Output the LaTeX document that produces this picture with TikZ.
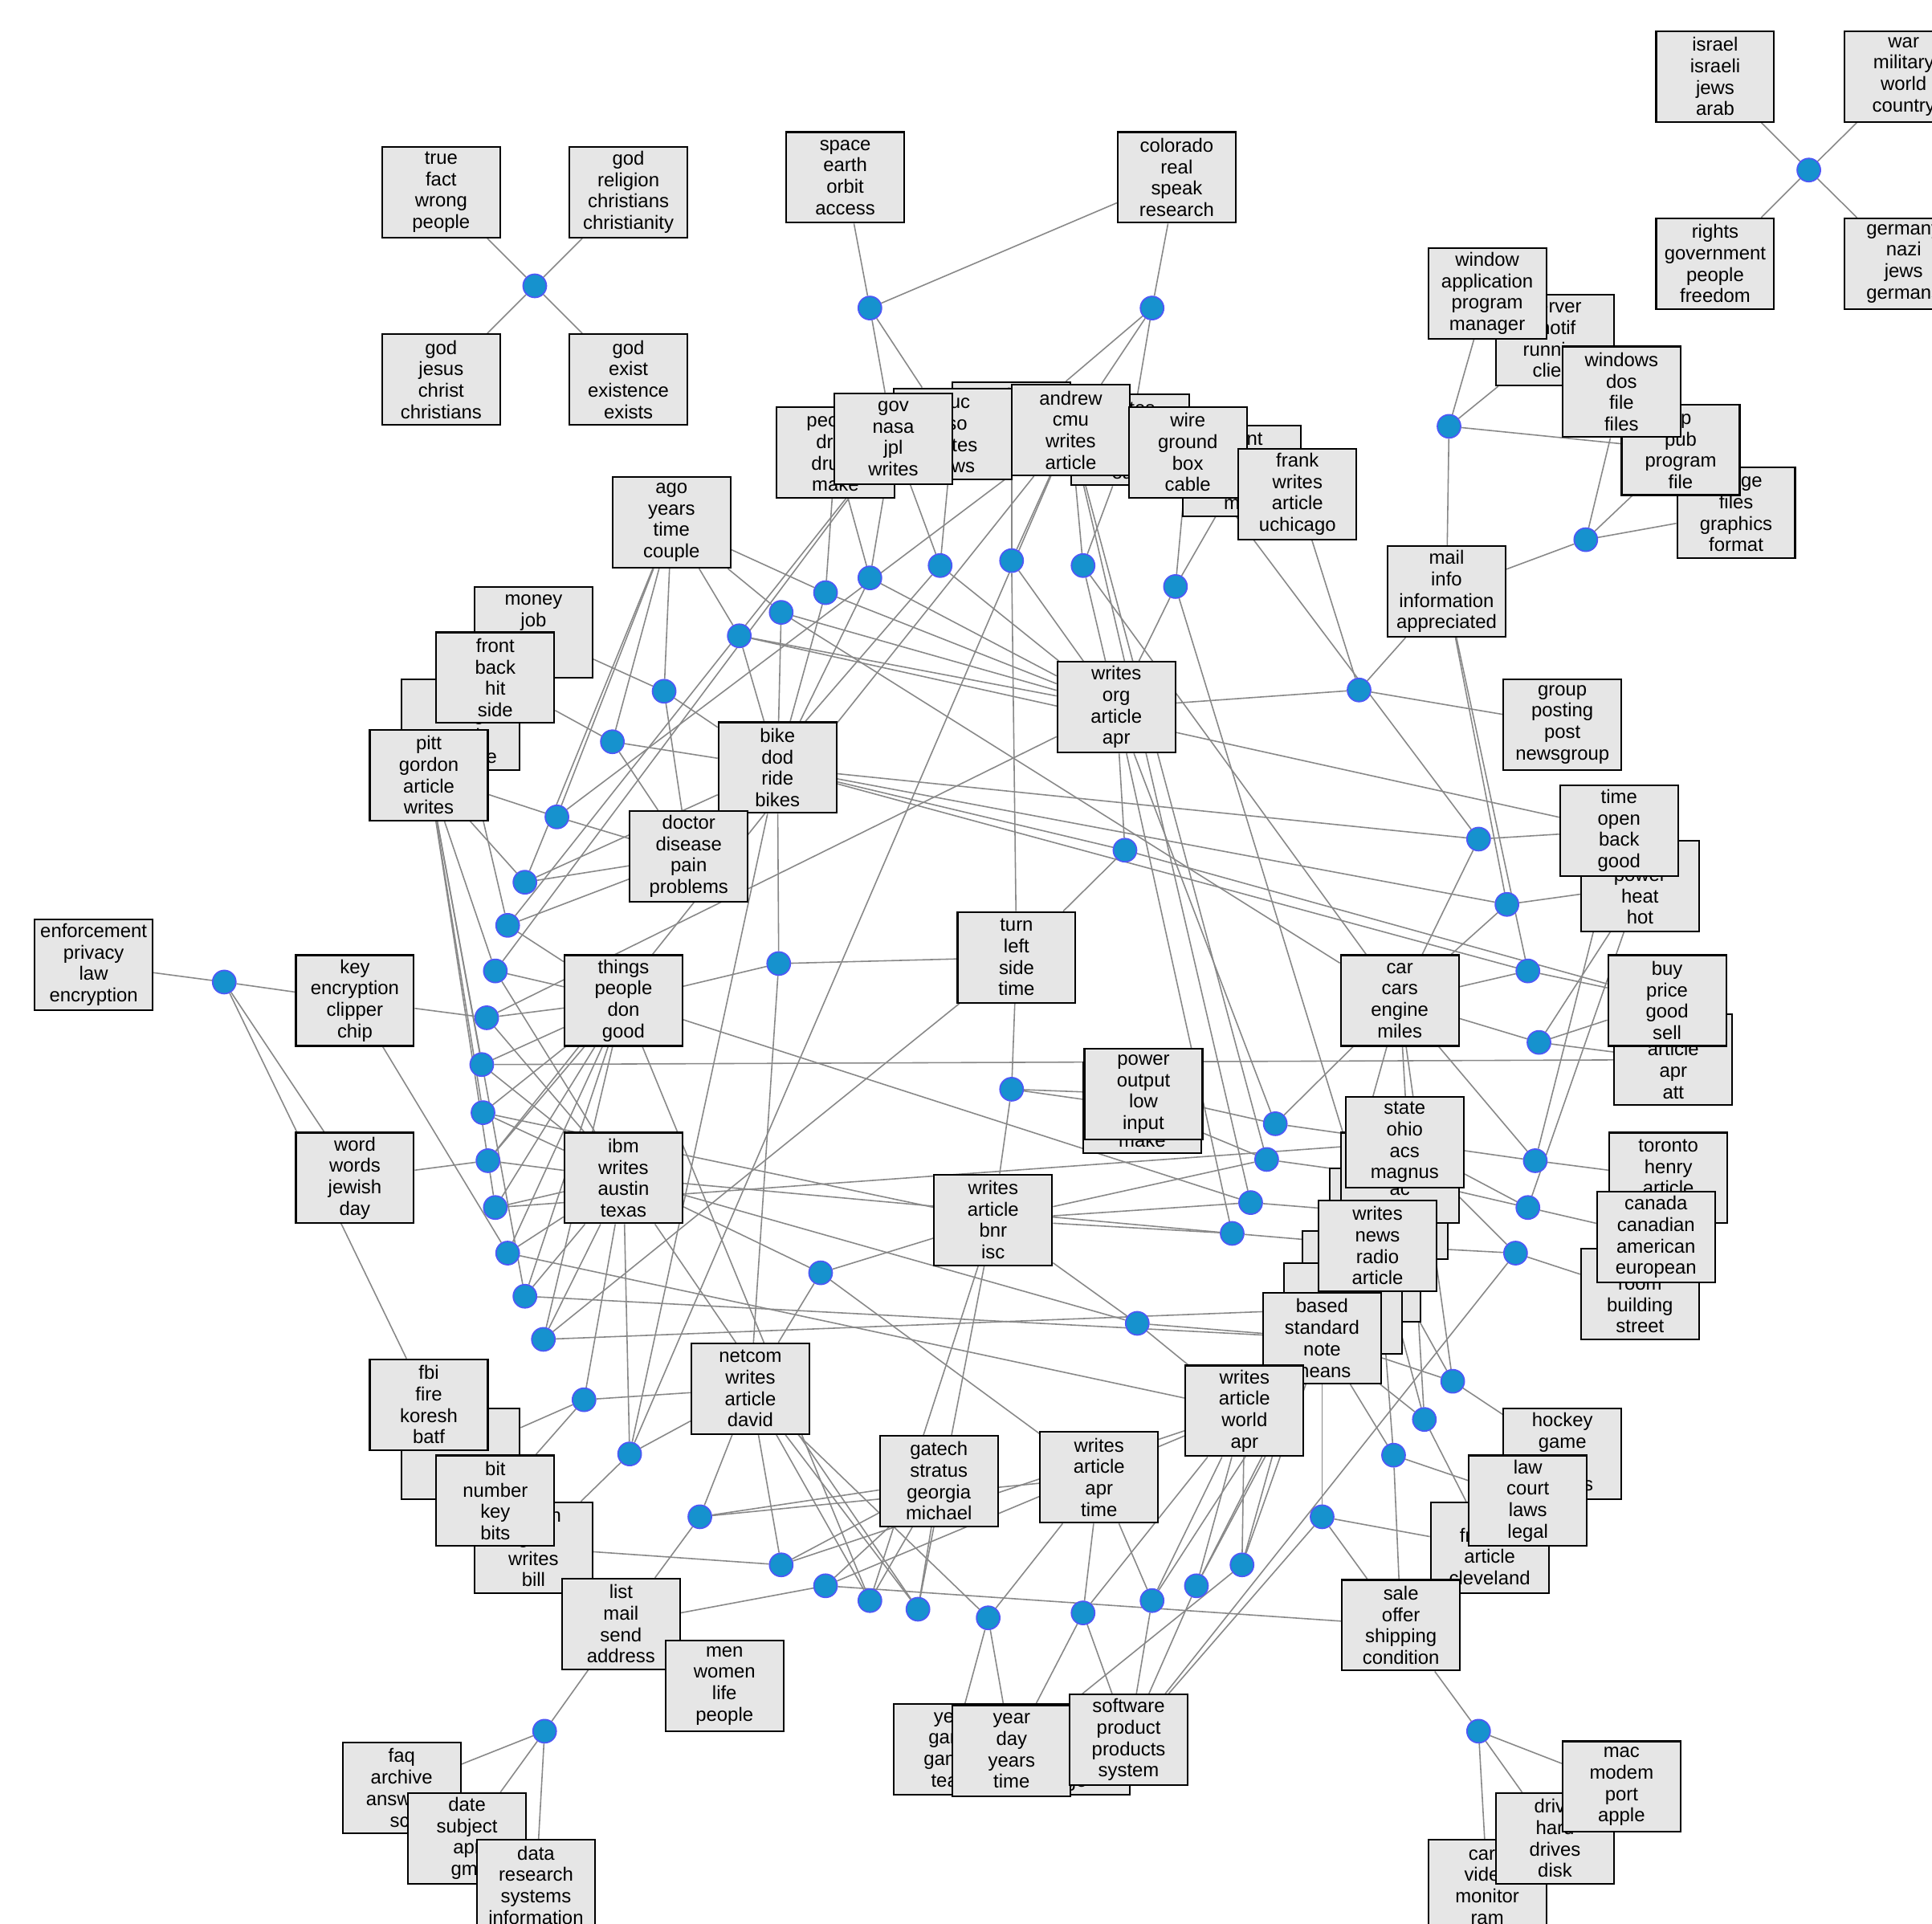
\documentclass[tikz,border=0pt]{standalone}
\usepackage{fontspec}
\setmainfont{Liberation Sans}
\usetikzlibrary{backgrounds}
\definecolor{hubfill}{RGB}{22,146,206}
\definecolor{hubline}{RGB}{78,88,246}
\definecolor{linkgray}{RGB}{136,136,136}
\definecolor{topicgray}{RGB}{230,230,230}

\begin{document}
\begin{tikzpicture}[x=0.015345cm,y=-0.015345cm,
	topic/.style={draw=black,fill=topicgray,line width=0.6pt,minimum width=1.47cm,minimum height=1.13cm,inner sep=0pt,align=center,font=\fontsize{6.8}{7.6}\selectfont},
	hub/.style={circle,draw=hubline,fill=hubfill,line width=0.5pt,minimum size=0.29cm,inner sep=0pt},
	link/.style={draw=linkgray,line width=0.45pt}]
	\useasboundingbox (0,0) rectangle (1568,1561);
	% 外围小组
	\node[topic] (tIsrael) at (1392,62) {israel\\israeli\\jews\\arab};
	\node[topic] (tWar) at (1545,62) {war\\military\\world\\country};
	\node[topic] (tRights) at (1392,214) {rights\\government\\people\\freedom};
	\node[topic] (tGerman) at (1545,214) {germany\\nazi\\jews\\germans};
	\node[topic] (tTrue) at (358,156) {true\\fact\\wrong\\people};
	\node[topic] (tGodRel) at (510,156) {god\\religion\\christians\\christianity};
	\node[topic] (tGodJes) at (358,308) {god\\jesus\\christ\\christians};
	\node[topic] (tGodEx) at (510,308) {god\\exist\\existence\\exists};
	\node[topic] (tSpace) at (686,144) {space\\earth\\orbit\\access};
	\node[topic] (tColo) at (955,144) {colorado\\real\\speak\\research};
	% 上方一排
	\node[topic] (tHidA) at (821,347) {writes\\article\\apr\\news};
	\node[topic] (tUiuc) at (773,352) {uiuc\\cso\\writes\\news};
	\node[topic] (tPeople) at (678,367) {people\\drug\\drugs\\make};
	\node[topic] (tGov) at (725,356) {gov\\nasa\\jpl\\writes};
	\node[topic] (tTes) at (917,357) {writes\\article\\sun\\east};
	\node[topic] (tAndrew) at (869,349) {andrew\\cmu\\writes\\article};
	\node[topic] (tNt) at (1008,382) {point\\circuit\\voltage\\max};
	\node[topic] (tWire) at (964,367) {wire\\ground\\box\\cable};
	\node[topic] (tFrank) at (1053,401) {frank\\writes\\article\\uchicago};
	\node[topic] (tServer) at (1262,276) {server\\motif\\running\\client};
	\node[topic] (tWindow) at (1207,238) {window\\application\\program\\manager};
	\node[topic] (tImage) at (1409,416) {image\\files\\graphics\\format};
	\node[topic] (tFtp) at (1364,365) {ftp\\pub\\program\\file};
	\node[topic] (tWindows) at (1316,318) {windows\\dos\\file\\files};
	\node[topic] (tMail) at (1174,480) {mail\\info\\information\\appreciated};
	\node[topic] (tGroup) at (1268,588) {group\\posting\\post\\newsgroup};
	% 左侧
	\node[topic] (tAgo) at (545,424) {ago\\years\\time\\couple};
	\node[topic] (tMoney) at (433,513) {money\\job\\pay\\tax};
	\node[topic] (tHidE) at (374,588) {dog\\riding\\road\\machine};
	\node[topic] (tFront) at (402,550) {front\\back\\hit\\side};
	\node[topic] (tPitt) at (348,629) {pitt\\gordon\\article\\writes};
	\node[topic] (tBike) at (631,623) {bike\\dod\\ride\\bikes};
	\node[topic] (tDoctor) at (559,695) {doctor\\disease\\pain\\problems};
	\node[topic] (tWritesOrg) at (906,574) {writes\\org\\article\\apr};
	\node[topic] (tEnforce) at (76,783) {enforcement\\privacy\\law\\encryption};
	\node[topic] (tKey) at (288,812) {key\\encryption\\clipper\\chip};
	\node[topic] (tThings) at (506,812) {things\\people\\don\\good};
	\node[topic] (tWord) at (288,956) {word\\words\\jewish\\day};
	\node[topic] (tIbm) at (506,956) {ibm\\writes\\austin\\texas};
	% 中部
	\node[topic] (tTurn) at (825,777) {turn\\left\\side\\time};
	\node[topic] (tMake) at (927,899) {problem\\work\\good\\make};
	\node[topic] (tPower) at (928,888) {power\\output\\low\\input};
	\node[topic] (tBnr) at (806,990) {writes\\article\\bnr\\isc};
	\node[topic] (tCar) at (1136,812) {car\\cars\\engine\\miles};
	% 右侧
	\node[topic] (tPowerHeat) at (1331,719) {water\\power\\heat\\hot};
	\node[topic] (tTimeOpen) at (1314,674) {time\\open\\back\\good};
	\node[topic] (tAtt) at (1358,860) {writes\\article\\apr\\att};
	\node[topic] (tBuy) at (1353,812) {buy\\price\\good\\sell};
	\node[topic] (tToronto) at (1354,956) {toronto\\henry\\article\\zoo};
	\node[topic] (tRoom) at (1331,1050) {door\\room\\building\\street};
	\node[topic] (tCanada) at (1344,1004) {canada\\canadian\\american\\european};
	\node[topic] (tHidB3) at (1127,985) {writes\\article\\org\\com};
	\node[topic] (tHidB2) at (1136,956) {writes\\article\\ac\\uk};
	\node[topic] (tState) at (1140,927) {state\\ohio\\acs\\magnus};
	\node[topic] (tHidB5) at (1105,1036) {writes\\article\\apr\\edu};
	\node[topic] (tHidB6) at (1090,1062) {article\\writes\\apr\\net};
	\node[topic] (tNews) at (1118,1011) {writes\\news\\radio\\article};
	\node[topic] (tBased) at (1073,1086) {based\\standard\\note\\means};
	% 下方
	\node[topic] (tNetcom) at (609,1127) {netcom\\writes\\article\\david};
	\node[topic] (tHidR) at (374,1180) {police\\officer\\crime\\guns};
	\node[topic] (tFbi) at (348,1140) {fbi\\fire\\koresh\\batf};
	\node[topic] (tClinton) at (433,1256) {clinton\\gov\\writes\\bill};
	\node[topic] (tBit) at (402,1218) {bit\\number\\key\\bits};
	\node[topic] (tGatech) at (762,1202) {gatech\\stratus\\georgia\\michael};
	\node[topic] (tWritesApr) at (892,1199) {writes\\article\\apr\\time};
	\node[topic] (tWorld) at (1010,1145) {writes\\article\\world\\apr};
	\node[topic] (tHockey) at (1268,1180) {hockey\\game\\team\\players};
	\node[topic] (tCleve) at (1209,1256) {cwru\\freenet\\article\\cleveland};
	\node[topic] (tLaw) at (1240,1218) {law\\court\\laws\\legal};
	\node[topic] (tSale) at (1137,1319) {sale\\offer\\shipping\\condition};
	\node[topic] (tList) at (504,1318) {list\\mail\\send\\address};
	\node[topic] (tMen) at (588,1368) {men\\women\\life\\people};
	\node[topic] (tYearGame) at (773,1420) {year\\game\\games\\team};
	\node[topic] (tHidBot) at (869,1420) {job\\work\\time\\age};
	\node[topic] (tYearDay) at (821,1421) {year\\day\\years\\time};
	\node[topic] (tSoftware) at (916,1412) {software\\product\\products\\system};
	\node[topic] (tFaq) at (326,1451) {faq\\archive\\answers\\sci};
	\node[topic] (tDate) at (379,1492) {date\\subject\\apr\\gmt};
	\node[topic] (tData) at (435,1530) {data\\research\\systems\\information};
	\node[topic] (tCard) at (1207,1530) {card\\video\\monitor\\ram};
	\node[topic] (tDrive) at (1262,1492) {drive\\hard\\drives\\disk};
	\node[topic] (tMac) at (1316,1450) {mac\\modem\\port\\apple};
	% 圆点
	\foreach \n/\x/\y in {dA/1468/138,dB/434/232,dC/706/250,dD/935/250,dE/1176/346,dF/1287/438,dG/1103/560,
		d1/706/469,d2/763/459,d3/821/455,d4/879/459,d5/954/476,d6/670/481,d7/634/497,d8/600/516,d9/539/561,d10/497/602,
		d11/452/663,d12/426/716,d13/412/751,d14/402/788,d15/395/826,d16/391/864,d17/392/903,d18/396/942,d19/402/980,
		d20/412/1017,d21/426/1052,d22/441/1087,d23/474/1136,d24/511/1180,d25/568/1231,d26/634/1270,d27/670/1287,
		d28/706/1299,d29/745/1306,d30/802/1313,d31/879/1309,d32/935/1299,d33/971/1287,d34/1008/1270,d35/1073/1231,
		d36/1131/1181,d37/1156/1152,d38/1179/1121,d39/1230/1017,d40/1240/980,d41/1246/942,d42/1249/846,d43/1240/788,
		d44/1223/734,d45/1200/681,d46/913/690,d47/632/782,d48/821/884,d49/1035/912,d50/1028/941,d51/1015/976,
		d52/1000/1001,d53/923/1074,d54/666/1033,d55/182/797,d56/442/1405,d57/1200/1405}
		\node[hub] (\n) at (\x,\y) {};
	% 连线
	\begin{scope}[on background layer]
		\foreach \a/\b in {dA/tIsrael,dA/tWar,dA/tRights,dA/tGerman,dB/tTrue,dB/tGodRel,dB/tGodJes,dB/tGodEx,
			dC/tSpace,dC/tColo,dC/tGov,dC/tUiuc,dD/tColo,dD/tAndrew,dD/tHidA,dD/tTes,
			dE/tWindow,dE/tServer,dE/tFtp,dE/tMail,dF/tWindows,dF/tFtp,dF/tImage,dF/tMail,
			dG/tMail,dG/tGroup,dG/tWritesOrg,dG/tFrank,
			d1/tPeople,d1/tGov,d1/tWritesOrg,d1/tBike,d2/tGov,d2/tUiuc,d2/tWritesOrg,d2/tDoctor,
			d3/tAndrew,d3/tHidA,d3/tWritesOrg,d3/tTurn,d4/tTes,d4/tAndrew,d4/tWritesOrg,d4/tCar,
			d5/tWire,d5/tNt,d5/tWritesOrg,d5/tNews,d6/tPeople,d6/tAgo,d6/tBike,d6/tWritesOrg,
			d7/tAgo,d7/tWritesOrg,d7/tBike,d7/tCar,d8/tAgo,d8/tWritesOrg,d8/tBike,d8/tTimeOpen,
			d9/tAgo,d9/tDoctor,d9/tBike,d9/tMoney,d10/tFront,d10/tBike,d10/tAgo,d10/tDoctor,
			d11/tPitt,d11/tAgo,d11/tDoctor,d11/tAndrew,d12/tPitt,d12/tAgo,d12/tDoctor,d12/tBike,
			d13/tHidE,d13/tThings,d13/tDoctor,d13/tGov,d14/tPitt,d14/tThings,d14/tGov,d14/tIbm,
			d15/tKey,d15/tThings,d15/tWritesOrg,d15/tIbm,d16/tPitt,d16/tThings,d16/tAtt,d16/tIbm,
			d17/tPitt,d17/tThings,d17/tIbm,d17/tBnr,d18/tWord,d18/tIbm,d18/tThings,d18/tAndrew,
			d19/tIbm,d19/tThings,d19/tPitt,d19/tState,d20/tKey,d20/tIbm,d20/tWorld,d20/tThings,
			d21/tIbm,d21/tThings,d21/tBased,d21/tPitt,d22/tIbm,d22/tThings,d22/tHidB6,d22/tTurn,
			d23/tHidR,d23/tIbm,d23/tNetcom,d23/tBit,d24/tClinton,d24/tIbm,d24/tBike,d24/tNetcom,d24/tAndrew,
			d25/tNetcom,d25/tList,d25/tGatech,d25/tWritesApr,d26/tNetcom,d26/tGatech,d26/tClinton,d26/tWorld,
			d27/tList,d27/tGatech,d27/tWorld,d27/tSale,d28/tGatech,d28/tNetcom,d28/tBnr,d28/tThings,
			d29/tGatech,d29/tBnr,d29/tIbm,d29/tNetcom,d30/tYearGame,d30/tYearDay,d30/tWritesApr,d30/tNetcom,
			d31/tWritesApr,d31/tYearDay,d31/tSoftware,d31/tWorld,d32/tWritesApr,d32/tWorld,d32/tSoftware,d32/tBased,
			d33/tWorld,d33/tSoftware,d33/tBased,d33/tNews,d34/tWorld,d34/tYearDay,d34/tBased,d34/tCar,
			d35/tSale,d35/tBased,d35/tCleve,d35/tSoftware,d36/tSale,d36/tBased,d36/tLaw,d36/tNews,
			d37/tCleve,d37/tBased,d37/tCar,d37/tNews,d38/tHockey,d38/tCar,d38/tBased,d38/tNews,
			d39/tRoom,d39/tNews,d39/tSoftware,d39/tState,d40/tCanada,d40/tState,d40/tHidB2,d40/tPowerHeat,
			d41/tToronto,d41/tState,d41/tCar,d41/tTimeOpen,d42/tBuy,d42/tAtt,d42/tCar,d42/tPowerHeat,
			d43/tBuy,d43/tCar,d43/tBike,d43/tMail,d44/tPowerHeat,d44/tBike,d44/tMail,d44/tCar,
			d45/tTimeOpen,d45/tCar,d45/tBike,d45/tWire,d46/tWritesOrg,d46/tTurn,d46/tBike,d46/tBuy,
			d47/tThings,d47/tTurn,d47/tBike,d47/tNetcom,d48/tTurn,d48/tPower,d48/tBnr,d48/tMake,
			d49/tPower,d49/tState,d49/tCar,d49/tWritesOrg,d50/tMake,d50/tHidB2,d50/tBnr,d50/tAndrew,
			d51/tHidB3,d51/tBnr,d51/tThings,d51/tAndrew,d52/tNews,d52/tBnr,d52/tIbm,d52/tWritesOrg,
			d53/tBased,d53/tWorld,d53/tBnr,d53/tIbm,d54/tIbm,d54/tBnr,d54/tNetcom,d54/tWritesApr,
			d55/tEnforce,d55/tKey,d55/tFbi,d55/tWord,d56/tFaq,d56/tDate,d56/tData,d56/tList,
			d57/tMac,d57/tDrive,d57/tCard,d57/tSale}
			\draw[link] (\a) -- (\b);
	\end{scope}
\end{tikzpicture}
\end{document}
